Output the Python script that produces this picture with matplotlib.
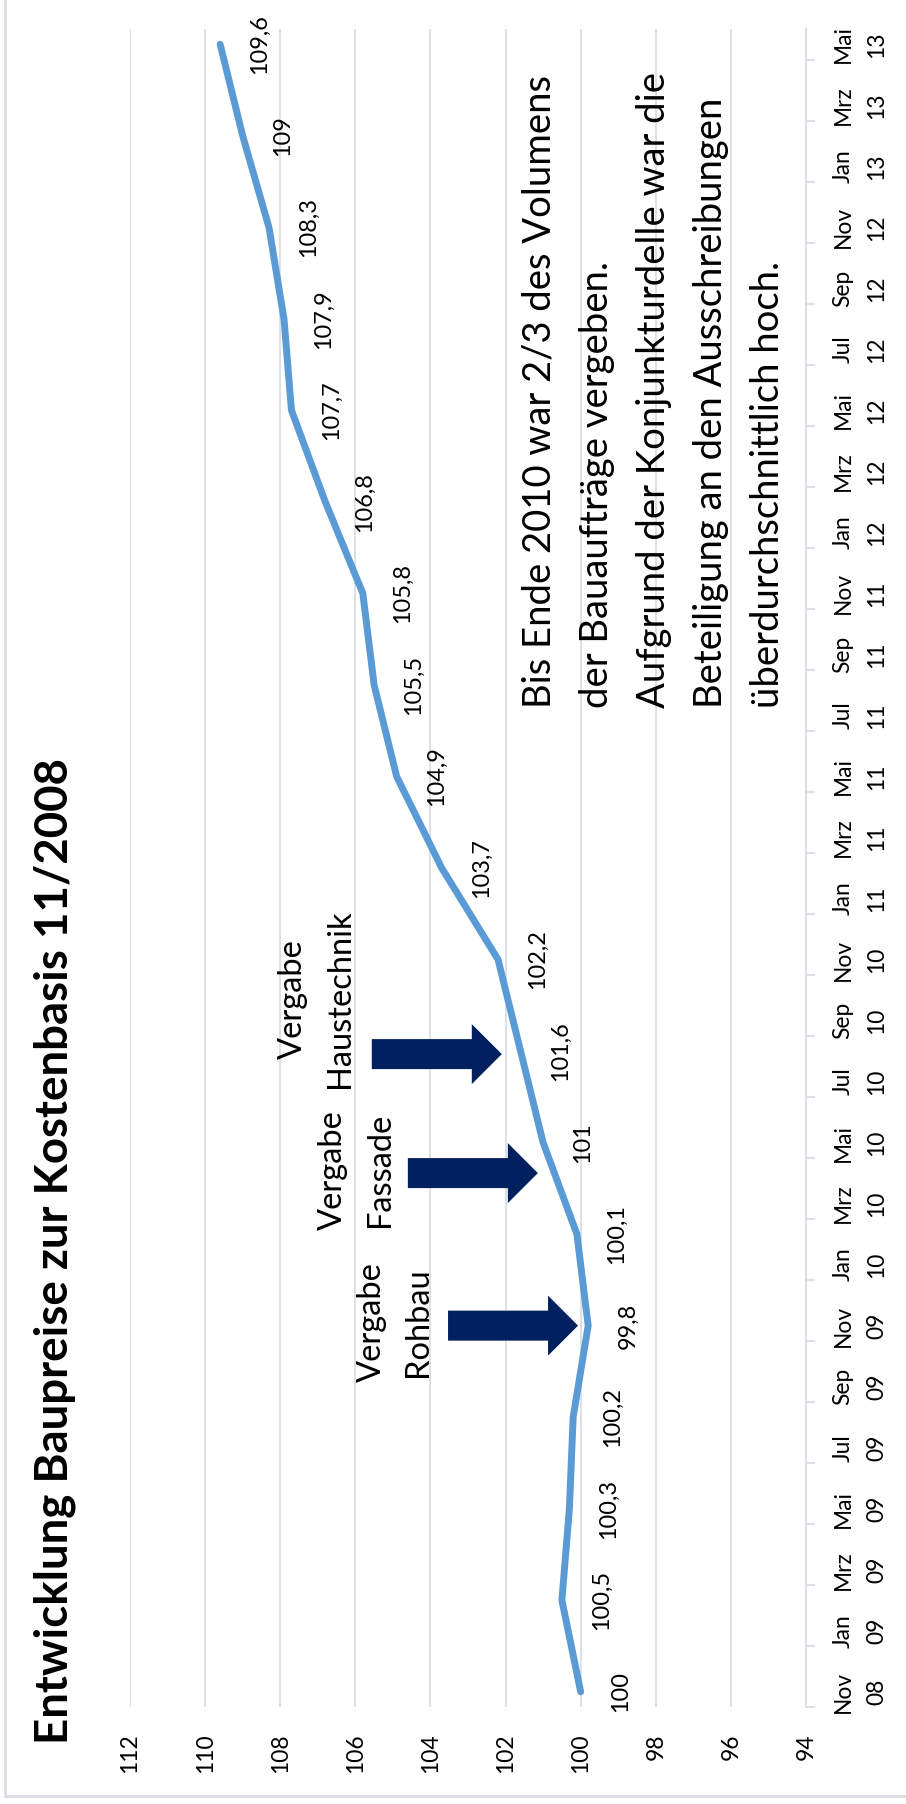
import numpy as np
import matplotlib.pyplot as plt
import matplotlib.transforms as mtransforms
from matplotlib.patches import Polygon
from matplotlib.lines import Line2D
from matplotlib.font_manager import FontProperties

# --- Data ---
# month index 0 = Nov 08, one step per month, up to 54 = Mai 13
month_labels = ['Nov\n08', 'Jan\n09', 'Mrz\n09', 'Mai\n09', 'Jul\n09', 'Sep\n09', 'Nov\n09',
                'Jan\n10', 'Mrz\n10', 'Mai\n10', 'Jul\n10', 'Sep\n10', 'Nov\n10',
                'Jan\n11', 'Mrz\n11', 'Mai\n11', 'Jul\n11', 'Sep\n11', 'Nov\n11',
                'Jan\n12', 'Mrz\n12', 'Mai\n12', 'Jul\n12', 'Sep\n12', 'Nov\n12',
                'Jan\n13', 'Mrz\n13', 'Mai\n13']
months = [0, 3, 6, 9, 12, 15, 18, 21, 24, 27, 30, 33, 36, 39, 42, 45, 48, 51, 54]
values = [100, 100.5, 100.3, 100.2, 99.8, 100.1, 101, 101.6, 102.2, 103.7,
          104.9, 105.5, 105.8, 106.8, 107.7, 107.9, 108.3, 109, 109.6]
value_ticks = [94, 96, 98, 100, 102, 104, 106, 108, 110, 112]

title = 'Entwicklung Baupreise zur Kostenbasis 11/2008'
note = ('Bis Ende 2010 war 2/3 des Volumens\n'
        'der Bauaufträge vergeben.\n'
        'Aufgrund der Konjunkturdelle war die\n'
        'Beteiligung an den Ausschreibungen\n'
        'überdurchschnittlich hoch.')
# arrow tips (value, month index) and label centres in pixels
arrow_labels = ['Vergabe\nRohbau', 'Vergabe\nFassade', 'Vergabe\nHaustechnik']
arrow_tips = [(100.07, 12), (101.14, 17), (102.1, 20.9)]
label_px = [(395, 1322), (356, 1170), (316, 999)]

W, H = 906, 1804
def fx(px):
    return px / W
def fy(py):
    return 1 - py / H

LINE = '#5B9BD5'
NAVY = '#002060'
GRID = '#D9DDE5'
FONT = 'Lato'

plt.rcParams['font.family'] = [FONT, 'DejaVu Sans']

fig = plt.figure(figsize=(W / 100, H / 100), dpi=100)
renderer = fig.canvas.get_renderer()

def fit(s, target_px, **kw):
    # font size whose rendered text length is target_px
    t = fig.text(0, 0, s, fontsize=10, **kw)
    w = t.get_window_extent(renderer).width
    t.remove()
    return 10 * target_px / w

def spacing(size, step_px, weight='normal'):
    # linespacing giving a baseline step of step_px
    _, h, d = renderer.get_text_width_height_descent(
        'lp', FontProperties(family=FONT, size=size, weight=weight), ismath=False)
    return step_px / (h - d), h - d

fs_data = fit('100,5', 60)
fs_tick = fit('112', 40)
fs_month = fit('Nov', 42)
fs_note = fit('Bis Ende 2010 war 2/3 des Volumens', 633)
fs_verg = fit('Vergabe', 120)
fs_title = fit(title, 988, fontweight='bold')
ls_month, _ = spacing(fs_month, 30)
ls_verg, _ = spacing(fs_verg, 41)
ls_note, asc_note = spacing(fs_note, 50)

ax = fig.add_axes([fx(130), fy(1707), (806 - 130) / W, (1707 - 29) / H])

# chart is drawn rotated: value axis horizontal (112 left), time axis vertical
ax.plot(values, months, color=LINE, lw=5, solid_joinstyle='round', solid_capstyle='round', zorder=3)
for v, m in zip(values, months):
    ax.annotate(('%g' % v).replace('.', ','), (v, m), xytext=(28.5, 0),
                textcoords='offset points', rotation=90, ha='center', va='center',
                fontsize=fs_data)

ax.set_xlim(112, 94)
ax.set_ylim(-0.5, 54.5)
ax.set_xticks(value_ticks)
ax.set_xticklabels([str(t) for t in value_ticks], rotation=90)
ax.tick_params(axis='x', length=0, pad=19, labelsize=fs_tick)
ax.grid(axis='x', color=GRID, lw=1.3)
ax.set_axisbelow(True)

ax.yaxis.tick_right()
ax.set_yticks(np.arange(-0.5, 54, 2))
ax.set_yticklabels([])
ax.set_yticks(np.arange(0, 55, 2), minor=True)
ax.set_yticklabels(month_labels, minor=True, rotation=90, va='center', ha='left',
                   multialignment='center', linespacing=ls_month)
ax.tick_params(axis='y', which='major', length=6.5, color=GRID, width=1.3, right=True)
ax.tick_params(axis='y', which='minor', length=0, pad=19, labelsize=fs_month)

for s in ['top', 'left', 'bottom']:
    ax.spines[s].set_visible(False)
ax.spines['right'].set_color(GRID)
ax.spines['right'].set_linewidth(1.3)

# block arrows, shape in inches relative to the tip
shape = np.array([(0, 0), (-30, 30), (-30, 15), (-130, 15), (-130, -15),
                  (-30, -15), (-30, -30)]) / 100
for (tv, tm) in arrow_tips:
    trans = fig.dpi_scale_trans + mtransforms.ScaledTranslation(tv, tm, ax.transData)
    ax.add_patch(Polygon(shape, closed=True, transform=trans, facecolor=NAVY,
                         edgecolor='none', zorder=4))

for txt, (px, py) in zip(arrow_labels, label_px):
    fig.text(fx(px), fy(py), txt, rotation=90, ha='center', va='center',
             multialignment='center', fontsize=fs_verg, linespacing=ls_verg)

fig.text(fx(55), fy(1251), title, rotation=90, ha='center', va='center',
         fontsize=fs_title, fontweight='bold')
# first baseline of the note sits at x = 551 px
fig.text(fx(551 - asc_note), fy(708), note, rotation=90, ha='left', va='bottom',
         multialignment='left', fontsize=fs_note, linespacing=ls_note)

# chart border
fig.add_artist(Line2D([fx(5), fx(5)], [fy(0), fy(1796)], color=GRID, lw=2))
fig.add_artist(Line2D([fx(5), fx(906)], [fy(1796), fy(1796)], color=GRID, lw=2))

plt.savefig('out.png', dpi=100)
